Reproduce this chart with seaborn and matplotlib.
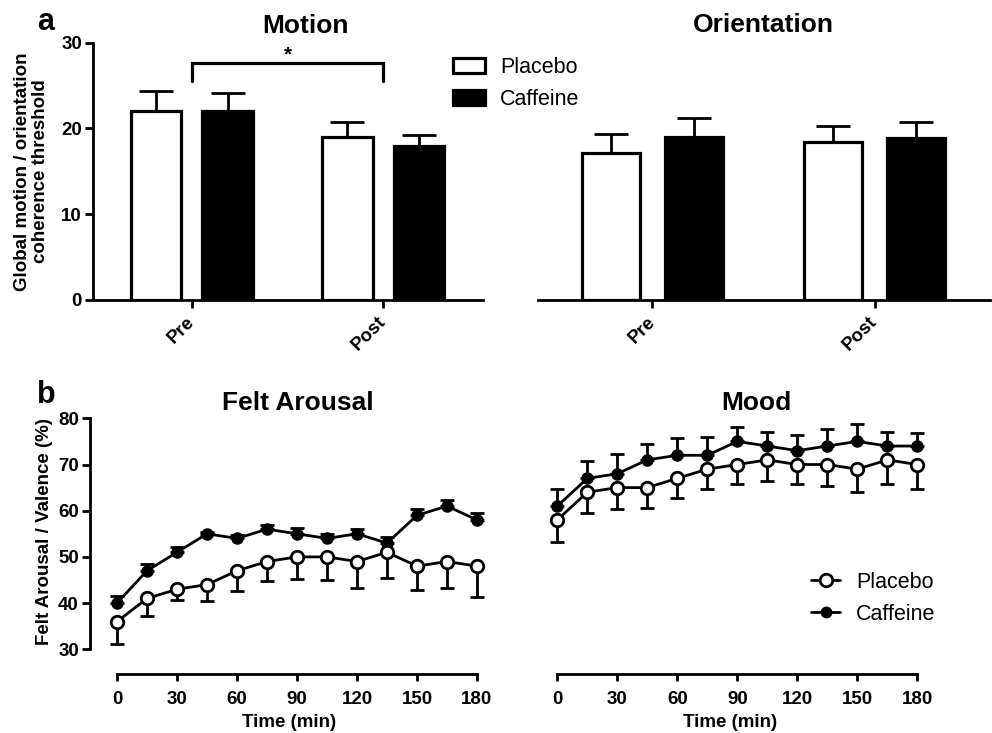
import numpy as np
import pandas as pd
import matplotlib
matplotlib.use("Agg")
import matplotlib.pyplot as plt
import seaborn as sns
from matplotlib.patches import Patch
from matplotlib.lines import Line2D

# ---------------- data ----------------
sessions = ["Pre", "Post"]
groups = ["Placebo", "Caffeine"]

motion_placebo = [22.0, 19.0]
motion_placebo_err = [2.4, 1.75]
motion_caffeine = [22.0, 18.0]
motion_caffeine_err = [2.1, 1.25]

orient_placebo = [17.1, 18.4]
orient_placebo_err = [2.2, 1.9]
orient_caffeine = [19.0, 18.85]
orient_caffeine_err = [2.25, 1.85]

time_min = [0, 15, 30, 45, 60, 75, 90, 105, 120, 135, 150, 165, 180]

arousal_placebo = [36, 41, 43, 44, 47, 49, 50, 50, 49, 51, 48, 49, 48]
arousal_placebo_err = [4.9, 3.9, 2.3, 3.5, 4.3, 4.3, 4.8, 5.1, 5.8, 5.5, 5.2, 5.8, 6.6]
arousal_caffeine = [40, 47, 51, 55, 54, 56, 55, 54, 55, 53, 59, 61, 58]
arousal_caffeine_err = [1.5, 1.5, 1.2, 0.3, 0.8, 0.9, 1.2, 1.0, 1.0, 1.4, 1.4, 1.4, 1.4]

mood_placebo = [58, 64, 65, 65, 67, 69, 70, 71, 70, 70, 69, 71, 70]
mood_placebo_err = [4.7, 4.6, 4.7, 4.5, 4.3, 4.3, 4.3, 4.6, 4.3, 4.6, 4.9, 5.2, 5.3]
mood_caffeine = [61, 67, 68, 71, 72, 72, 75, 74, 73, 74, 75, 74, 74]
mood_caffeine_err = [3.8, 3.8, 4.3, 3.4, 3.7, 4.0, 3.1, 3.1, 3.3, 3.6, 3.8, 3.1, 2.9]

bar_ticks = [0, 10, 20, 30]
line_yticks = [30, 40, 50, 60, 70, 80]
line_xticks = [0, 30, 60, 90, 120, 150, 180]

# ---------------- style ----------------
sns.set_theme(style="ticks")
plt.rcParams["font.family"] = ["Liberation Sans", "DejaVu Sans"]
plt.rcParams["axes.linewidth"] = 2.0
plt.rcParams["xtick.major.width"] = 2.0
plt.rcParams["ytick.major.width"] = 2.0
plt.rcParams["axes.edgecolor"] = "black"
plt.rcParams["axes.labelcolor"] = "black"
plt.rcParams["xtick.color"] = "black"
plt.rcParams["ytick.color"] = "black"
plt.rcParams["xtick.labelcolor"] = "black"
plt.rcParams["ytick.labelcolor"] = "black"
plt.rcParams["text.color"] = "black"
plt.rcParams["legend.labelcolor"] = "black"

W, H = 992, 733
fig = plt.figure(figsize=(W / 100, H / 100), dpi=100)


def px_axes(left, top, right, bottom):
    ax = fig.add_axes([left / W, 1 - bottom / H, (right - left) / W, (bottom - top) / H])
    ax.patch.set_visible(False)
    return ax


ax_mot = px_axes(93, 42.7, 483, 300)
ax_ori = px_axes(538, 42.7, 990, 300)
ax_aro = px_axes(90, 413.7, 489, 674)
ax_moo = px_axes(530.3, 413.7, 929.3, 674)

palette = {"Placebo": "white", "Caffeine": "black"}


def bar_panel(ax, plc, plc_err, caf, caf_err, show_y):
    df = pd.DataFrame({
        "session": sessions * 2,
        "group": ["Placebo"] * 2 + ["Caffeine"] * 2,
        "value": plc + caf,
    })
    sns.barplot(data=df, x="session", y="value", hue="group", order=sessions,
                hue_order=groups, palette=palette, edgecolor="black",
                linewidth=2.3, width=0.75, gap=0.3, errorbar=None,
                legend=False, ax=ax)
    for cont, vals, errs in zip(ax.containers, [plc, caf], [plc_err, caf_err]):
        xs = [p.get_x() + p.get_width() / 2 for p in cont.patches]
        ax.errorbar(xs, vals, yerr=[np.zeros(len(errs)), errs], fmt="none",
                    ecolor="black", elinewidth=2.0, capsize=12, capthick=2.0,
                    zorder=1)
    ax.set_xlim(-0.515, 1.52)
    ax.set_ylim(0, 30)
    ax.set_xlabel("")
    ax.set_ylabel("")
    sns.despine(ax=ax, left=not show_y)
    ax.tick_params(axis="x", length=6, pad=8)
    for lab in ax.get_xticklabels():
        lab.set_rotation(45)
        lab.set_ha("right")
        lab.set_va("center")
        lab.set_rotation_mode("anchor")
        lab.set_fontsize(13.5)
        lab.set_fontweight("bold")
    if show_y:
        ax.set_yticks(bar_ticks)
        ax.tick_params(axis="y", length=6, labelsize=13.5, pad=2)
        for lab in ax.get_yticklabels():
            lab.set_fontweight("bold")
    else:
        ax.set_yticks([])


bar_panel(ax_mot, motion_placebo, motion_placebo_err, motion_caffeine, motion_caffeine_err, True)
bar_panel(ax_ori, orient_placebo, orient_placebo_err, orient_caffeine, orient_caffeine_err, False)

ax_mot.set_ylabel("Global motion / orientation\ncoherence threshold", fontsize=13.5,
                  fontweight="bold", linespacing=1.12)
ax_mot.yaxis.set_label_coords(-0.112, 0.5)

# significance bracket
ax_mot.plot([0, 0, 1, 1], [25.5, 27.65, 27.65, 25.5], color="black", lw=2.3,
            clip_on=False, solid_joinstyle="miter")
ax_mot.text(0.5, 28.6, "*", ha="center", va="center", fontsize=15, fontweight="bold")

bar_handles = [Patch(facecolor="white", edgecolor="black", linewidth=2.3),
               Patch(facecolor="black", edgecolor="black", linewidth=2.3)]
fig.legend(bar_handles, groups, loc="upper left", bbox_to_anchor=(453 / W, 1 - 57 / H),
           bbox_transform=fig.transFigure, frameon=False, fontsize=15.5,
           handlelength=1.5, handleheight=0.72, handletextpad=0.7,
           labelspacing=0.5, borderpad=0, borderaxespad=0)


def line_panel(ax, plc, plc_err, caf, caf_err, show_y):
    df_p = pd.DataFrame({"time": time_min, "value": plc})
    df_c = pd.DataFrame({"time": time_min, "value": caf})
    ax.errorbar(time_min, plc, yerr=[plc_err, np.zeros(len(plc_err))], fmt="none",
                ecolor="black", elinewidth=2.0, capsize=4.8, capthick=2.0, zorder=1.5)
    ax.errorbar(time_min, caf, yerr=[np.zeros(len(caf_err)), caf_err], fmt="none",
                ecolor="black", elinewidth=2.0, capsize=4.8, capthick=2.0, zorder=1.5)
    sns.lineplot(data=df_c, x="time", y="value", color="black", marker="o",
                 markersize=7.5, markerfacecolor="black", markeredgecolor="black",
                 markeredgewidth=1.5, linewidth=2.0, errorbar=None, ax=ax, zorder=3)
    sns.lineplot(data=df_p, x="time", y="value", color="black", marker="o",
                 markersize=9, markerfacecolor="white", markeredgecolor="black",
                 markeredgewidth=2.0, linewidth=2.0, errorbar=None, ax=ax, zorder=3)
    ax.set_xlim(-13.5, 186)
    ax.set_ylim(24.65, 81)
    ax.set_xticks(line_xticks)
    ax.set_xlabel("Time (min)", fontsize=13.5, fontweight="bold", labelpad=4.5)
    ax.set_ylabel("")
    ax.tick_params(axis="x", length=5, labelsize=13.5, pad=7)
    for lab in ax.get_xticklabels():
        lab.set_fontweight("bold")
    sns.despine(ax=ax, left=not show_y)
    ax.spines["bottom"].set_bounds(0, 180)
    if show_y:
        ax.spines["left"].set_bounds(30, 80)
        ax.set_yticks(line_yticks)
        ax.tick_params(axis="y", length=6, labelsize=13.5, pad=2)
        for lab in ax.get_yticklabels():
            lab.set_fontweight("bold")
    else:
        ax.set_yticks([])


line_panel(ax_aro, arousal_placebo, arousal_placebo_err, arousal_caffeine, arousal_caffeine_err, True)
line_panel(ax_moo, mood_placebo, mood_placebo_err, mood_caffeine, mood_caffeine_err, False)

ax_aro.set_ylabel("Felt Arousal / Valence (%)", fontsize=13.5, fontweight="bold")
ax_aro.yaxis.set_label_coords(-0.093, 0.547)

line_handles = [Line2D([], [], color="black", lw=2.0, marker="o", markersize=9,
                       markerfacecolor="white", markeredgewidth=2.0),
                Line2D([], [], color="black", lw=2.0, marker="o", markersize=7.5,
                       markerfacecolor="black")]
fig.legend(line_handles, groups, loc="upper left", bbox_to_anchor=(811 / W, 1 - 572 / H),
           bbox_transform=fig.transFigure, frameon=False, fontsize=15.5,
           handlelength=1.35, handletextpad=0.75, labelspacing=0.5,
           borderpad=0, borderaxespad=0)

# titles and panel letters
fig.text(306 / W, 1 - 33 / H, "Motion", ha="center", va="baseline", fontsize=19, fontweight="bold")
fig.text(763 / W, 1 - 32 / H, "Orientation", ha="center", va="baseline", fontsize=19, fontweight="bold")
fig.text(298 / W, 1 - 410 / H, "Felt Arousal", ha="center", va="baseline", fontsize=19, fontweight="bold")
fig.text(756 / W, 1 - 410 / H, "Mood", ha="center", va="baseline", fontsize=19, fontweight="bold")
fig.text(37 / W, 1 - 30 / H, "a", ha="left", va="baseline", fontsize=22, fontweight="bold")
fig.text(37 / W, 1 - 403 / H, "b", ha="left", va="baseline", fontsize=22, fontweight="bold")

fig.savefig("out.png", dpi=100)
